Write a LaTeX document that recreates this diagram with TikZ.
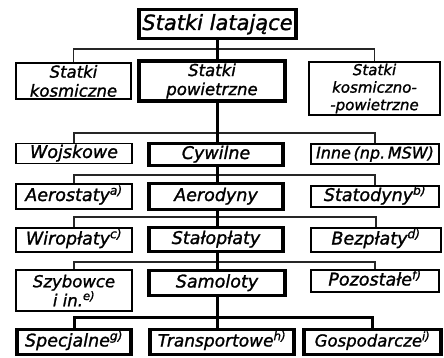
\documentclass[tikz,border=0pt]{standalone}
\usepackage{fontspec}
\setmainfont{DejaVu Sans}[ItalicFeatures={FakeBold=1.3}]
\usepackage{tikz}
\usetikzlibrary{calc}
\usetikzlibrary{positioning}
\tikzset{
  mybox/.style={
    draw=black,
    shape=rectangle,
    line width=1.8pt,
    align=center,
    inner xsep=1pt,
    inner ysep=1.5pt,
    font=\itshape\fontsize{17.5}{20}\selectfont
  },
  mythickbox/.style={
    mybox,
    line width=3.6pt,
  },
  myline/.style={
    text height=13pt,
    text depth=4pt,
  },
  mymulti/.style={
    inner ysep=2.5pt,
    font=\itshape\fontsize{16.5}{19}\selectfont
  },
  mybus/.style={
    draw=black!85,
    line width=1.1pt,
  },
  mystem/.style={
    draw=black,
    line width=3pt,
  },
}

\begin{document}
\begin{tikzpicture}[x=1pt, y=-1pt]
    \useasboundingbox (0,0) rectangle (444,358);

    \node[mythickbox, myline, minimum width=157, minimum height=29,
      font=\itshape\fontsize{21}{23}\selectfont, text height=16pt] (SL) at (217.5,24) {Statki latające};

    \node[mybox, mymulti, minimum width=115, minimum height=32] (SK) at (73.5,81) {Statki\\kosmiczne};
    \node[mythickbox, mymulti, minimum width=146, minimum height=35] (SP) at (212,81) {Statki\\powietrzne};
    \node[mybox, mymulti, minimum width=131, minimum height=46, inner ysep=1.5pt,
      font=\itshape\fontsize{15}{17.5}\selectfont] (SKP) at (374.5,88.5) {Statki\\kosmiczno-\\-powietrzne};

    \node[mybox, myline, minimum width=116, minimum height=19] (W) at (74,153.5) {Wojskowe};
    \node[mythickbox, myline, minimum width=134, minimum height=22] (C) at (216,154.5) {Cywilne};
    \node[mybox, myline, minimum width=128, minimum height=20,
      font=\itshape\fontsize{16}{18}\selectfont] (I) at (375,154) {Inne\,(np.\,MSW)};

    \node[mybox, myline, minimum width=116, minimum height=25] (A) at (74,196.5) {Aerostaty\textsuperscript{a)}};
    \node[mythickbox, myline, minimum width=134, minimum height=26] (AD) at (216,196.5) {Aerodyny};
    \node[mybox, myline, minimum width=128, minimum height=21] (ST) at (375,196.5) {Statodyny\textsuperscript{b)}};

    \node[mybox, myline, minimum width=116, minimum height=24] (WI) at (74,240) {Wiropłaty\textsuperscript{c)}};
    \node[mythickbox, myline, minimum width=134, minimum height=24] (SA) at (216,239.5) {Stałopłaty};
    \node[mybox, myline, minimum width=130, minimum height=24] (BZ) at (376,240) {Bezpłaty\textsuperscript{d)}};

    \node[mybox, mymulti, minimum width=116, minimum height=41] (SZ) at (74,290.5) {Szybowce\\i in.\textsuperscript{e)}};
    \node[mythickbox, myline, minimum width=136, minimum height=25] (SM) at (217,283) {Samoloty};
    \node[mybox, myline, minimum width=128, minimum height=22] (PO) at (375,281) {Pozostałe\textsuperscript{f)}};

    \node[mythickbox, myline, minimum width=114, minimum height=25] (SC) at (74,342) {Specjalne\textsuperscript{g)}};
    \node[mythickbox, myline, minimum width=144, minimum height=25,
      font=\itshape\fontsize{17}{19}\selectfont] (TR) at (222,342) {Transportowe\textsuperscript{h)}};
    \node[mythickbox, myline, minimum width=137, minimum height=25,
      font=\itshape\fontsize{16.5}{19}\selectfont] (GO) at (372.5,342) {Gospodarcze\textsuperscript{i)}};

    % szyny poziome
    \coordinate (b1) at (217,49);
    \coordinate (b2) at (217,133);
    \coordinate (b3) at (217,175);
    \coordinate (b4) at (217,217);
    \coordinate (b5) at (217,262);
    \coordinate (b6) at (217,317);

    \draw[mybus] (SK.north) |- (b1) -| (SKP.north);
    \draw[mybus] (W.north) |- (b2) -| (I.north);
    \draw[mybus] (A.north) |- (b3) -| (ST.north);
    \draw[mybus] (WI.north) |- (b4) -| (BZ.north);
    \draw[mybus] (SZ.north) |- (b5) -| (PO.north);
    \draw[mystem] (SC.north) |- (b6) -| (GO.north);

    % pion srodkowy
    \draw[mystem] (SL.south) -- (SL.south |- SP.north);
    \draw[mystem] (b1 |- SP.south) -- (b1 |- C.north);
    \draw[mystem] (b1 |- C.south) -- (b1 |- AD.north);
    \draw[mystem] (b1 |- AD.south) -- (b1 |- SA.north);
    \draw[mystem] (b1 |- SA.south) -- (b1 |- SM.north);
    \draw[mystem] (b1 |- SM.south) -- (b1 |- TR.north);
  \end{tikzpicture}
\end{document}
